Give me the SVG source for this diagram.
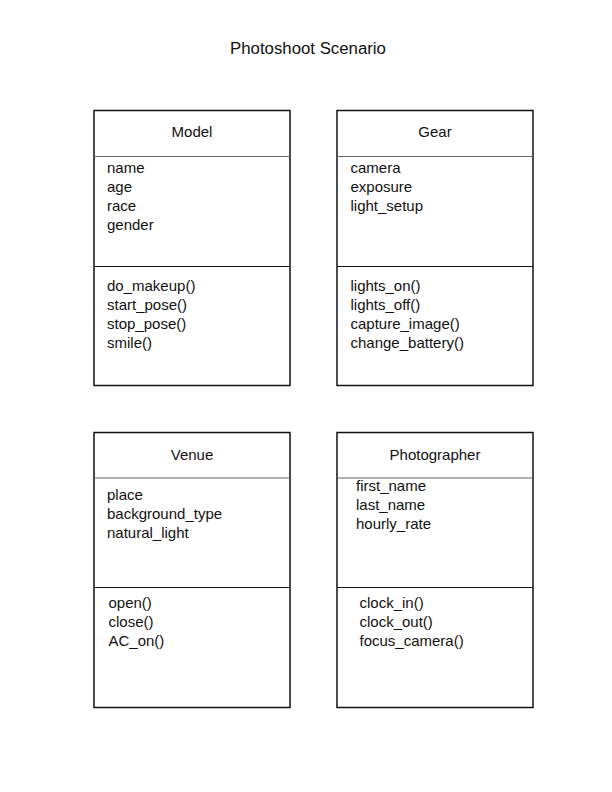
<svg xmlns="http://www.w3.org/2000/svg" width="612" height="792" viewBox="0 0 612 792">
<style>
text{font-family:"Liberation Sans",Arial,sans-serif;font-size:15px;fill:#111}
.title{font-size:16.8px}
.hd{text-anchor:middle}
.box{fill:#fff;stroke:#111;stroke-width:1.5}
.div1{stroke:#666;stroke-width:1}
.div2{stroke:#111;stroke-width:1.2}
</style>
<rect width="612" height="792" fill="#fff"/>
<text class="title" x="308" y="54" text-anchor="middle">Photoshoot Scenario</text>
<g id="connectors"/>
<g id="model">
<rect class="box" x="94" y="110.5" width="196" height="275"/>
<line class="div1" x1="94" y1="156.5" x2="290" y2="156.5"/>
<line class="div2" x1="94" y1="266.5" x2="290" y2="266.5"/>
<text class="hd" x="192" y="136.5">Model</text>
<text x="107" y="173">name</text>
<text x="107" y="192">age</text>
<text x="107" y="211">race</text>
<text x="107" y="230">gender</text>
<text x="107" y="291">do_makeup()</text>
<text x="107" y="310">start_pose()</text>
<text x="107" y="329">stop_pose()</text>
<text x="107" y="348">smile()</text>
</g>
<g id="gear">
<rect class="box" x="337" y="110.5" width="196" height="275"/>
<line class="div1" x1="337" y1="156.5" x2="533" y2="156.5"/>
<line class="div2" x1="337" y1="266.5" x2="533" y2="266.5"/>
<text class="hd" x="435" y="136.5">Gear</text>
<text x="350.5" y="173">camera</text>
<text x="350.5" y="192">exposure</text>
<text x="350.5" y="211">light_setup</text>
<text x="350.5" y="291">lights_on()</text>
<text x="350.5" y="310">lights_off()</text>
<text x="350.5" y="329">capture_image()</text>
<text x="350.5" y="348">change_battery()</text>
</g>
<g id="venue">
<rect class="box" x="94" y="432.5" width="196" height="275"/>
<line class="div1" x1="94" y1="478" x2="290" y2="478"/>
<line class="div2" x1="94" y1="587.5" x2="290" y2="587.5"/>
<text class="hd" x="192" y="459.5">Venue</text>
<text x="107" y="499.5">place</text>
<text x="107" y="518.5">background_type</text>
<text x="107" y="537.5">natural_light</text>
<text x="108.5" y="608">open()</text>
<text x="108.5" y="627">close()</text>
<text x="108.5" y="646">AC_on()</text>
</g>
<g id="photographer">
<rect class="box" x="337" y="432.5" width="196" height="275"/>
<line class="div1" x1="337" y1="478" x2="533" y2="478"/>
<line class="div2" x1="337" y1="587.5" x2="533" y2="587.5"/>
<text class="hd" x="435" y="459.5">Photographer</text>
<text x="356" y="491">first_name</text>
<text x="356" y="510">last_name</text>
<text x="356" y="529">hourly_rate</text>
<text x="359.5" y="608">clock_in()</text>
<text x="359.5" y="627">clock_out()</text>
<text x="359.5" y="646">focus_camera()</text>
</g>
</svg>
